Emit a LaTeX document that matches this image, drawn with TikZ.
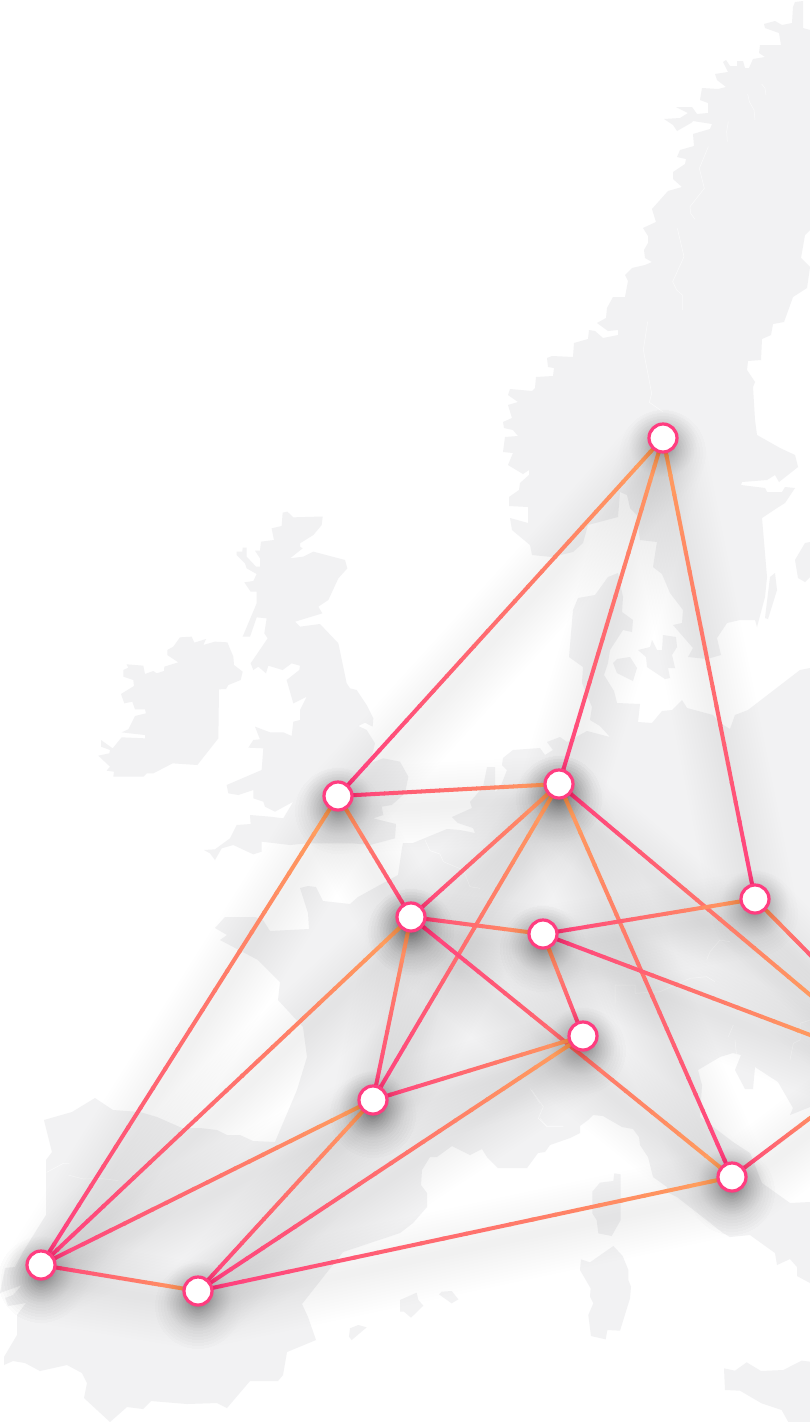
\documentclass[tikz,border=0pt]{standalone}
\usetikzlibrary{calc}
\definecolor{landgrey}{HTML}{F2F2F3}
\definecolor{linkpink}{HTML}{FF3D80}
\definecolor{linkorange}{HTML}{FFA35C}
\pgfdeclarelayer{land}
\pgfdeclarelayer{glow}
\pgfdeclarelayer{wire}
\pgfdeclarelayer{halo}
\pgfsetlayers{land,glow,wire,halo,main}
\tikzset{
  city/.style={circle,fill=white,draw=linkpink,line width=3.2pt,inner sep=0pt,minimum size=28pt},
  landmass/.style={fill=landgrey,draw=none},
  border/.style={draw=white,line width=.5pt,opacity=.7},
  wireline/.style={line width=4pt},
  haze/.style={black,line cap=round,opacity=.004}
}
\begin{document}
\begin{tikzpicture}[x=1pt,y=-1pt]
\useasboundingbox (0,0) rectangle (810,1422);
\node[city] (oslo) at (663,438) {};
\node[city] (london) at (338,796) {};
\node[city] (hamburg) at (559,784) {};
\node[city] (paris) at (411,917) {};
\node[city] (frankfurt) at (543,934) {};
\node[city] (berlin) at (755,899) {};
\node[city] (zurich) at (583,1036) {};
\node[city] (lyon) at (373,1100) {};
\node[city] (rome) at (732,1177) {};
\node[city] (lisbon) at (41,1265) {};
\node[city] (madrid) at (198,1291) {};
\coordinate (vienna) at (834,1015);
\coordinate (munich) at (834,1044);
\coordinate (warsaw) at (834,979);
\coordinate (athens) at (834,1100);
% map
\begin{pgfonlayer}{land}
\fill[white] (0,0) rectangle (810,1422);
\fill[landmass] (795,2) -- (803,1) -- (803,28) -- (810,30) -- (810,230) -- (805,235) -- (801,258) -- (810,267) -- (807,288) -- (793,297) -- (784,322) -- (773,324) -- (771,335) -- (762,339) -- (761,360) -- (748,361) -- (747,370) -- (755,382) -- (753,387) -- (755,420) -- (757,435) -- (780,448) -- (795,455) -- (798,467) -- (779,482) -- (775,475) -- (767,480) -- (742,482) -- (741,485) -- (765,488) -- (767,492) -- (782,492) -- (785,487) -- (795,488) -- (785,503) -- (777,508) -- (762,518) -- (767,577) -- (765,597) -- (757,627) -- (755,620) -- (740,620) -- (727,623) -- (717,638) -- (721,655) -- (707,659) -- (688,657) -- (693,648) -- (673,625) -- (682,623) -- (683,610) -- (670,593) -- (662,574) -- (653,567) -- (657,542) -- (640,540) -- (637,515) -- (630,508) -- (627,495) -- (620,492) -- (618,517) -- (588,525) -- (583,543) -- (573,552) -- (552,557) -- (532,555) -- (530,545) -- (512,530) -- (510,518) -- (528,523) -- (528,507) -- (509,506) -- (509,497) -- (519,490) -- (520,483) -- (529,475) -- (529,470) -- (523,474) -- (508,465) -- (513,453) -- (503,452) -- (505,437) -- (518,436) -- (513,430) -- (504,428) -- (503,422) -- (512,418) -- (508,405) -- (518,402) -- (508,395) -- (510,389) -- (532,391) -- (535,388) -- (536,377) -- (553,376) -- (554,368) -- (548,367) -- (547,358) -- (552,356) -- (573,357) -- (574,343) -- (588,339) -- (589,330) -- (595,331) -- (603,338) -- (618,335) -- (618,330) -- (608,331) -- (597,323) -- (606,318) -- (607,308) -- (613,297) -- (625,297) -- (628,281) -- (625,275) -- (632,268) -- (645,265) -- (652,262) -- (645,258) -- (644,250) -- (648,243) -- (648,236) -- (643,228) -- (656,222) -- (652,209) -- (668,191) -- (682,187) -- (673,179) -- (673,172) -- (685,164) -- (686,159) -- (677,157) -- (680,150) -- (694,146) -- (693,134) -- (710,129) -- (712,124) -- (693,121) -- (691,123) -- (677,131) -- (673,125) -- (664,119) -- (680,118) -- (688,113) -- (676,107) -- (692,107) -- (697,114) -- (708,113) -- (708,103) -- (700,100) -- (702,88) -- (718,89) -- (726,87) -- (717,80) -- (715,74) -- (728,72) -- (723,62) -- (726,60) -- (730,66) -- (737,66) -- (737,61) -- (743,61) -- (745,68) -- (749,68) -- (753,59) -- (765,57) -- (759,53) -- (760,45) -- (781,45) -- (779,33) -- (765,28) -- (764,24) -- (775,21) -- (782,25) -- (792,23) -- (793,7) -- cycle;
\fill[landmass] (618,573) -- (623,597) -- (622,612) -- (633,620) -- (632,632) -- (623,630) -- (610,650) -- (608,663) -- (604,675) -- (614,691) -- (617,703) -- (640,704) -- (638,722) -- (652,723) -- (662,711) -- (672,710) -- (682,700) -- (687,708) -- (713,715) -- (720,723) -- (730,729) -- (735,715) -- (748,710) -- (800,670) -- (810,668) -- (810,1107) -- (790,1115) -- (793,1108) -- (778,1082) -- (755,1067) -- (753,1089) -- (745,1089) -- (735,1070) -- (741,1055) -- (733,1053) -- (720,1057) -- (698,1070) -- (702,1085) -- (700,1117) -- (733,1142) -- (750,1153) -- (762,1183) -- (790,1203) -- (810,1202) -- (810,1283) -- (797,1276) -- (797,1267) -- (790,1259) -- (777,1265) -- (775,1253) -- (750,1235) -- (730,1237) -- (723,1233) -- (677,1197) -- (667,1192) -- (667,1187) -- (653,1177) -- (648,1157) -- (640,1145) -- (639,1137) -- (633,1129) -- (622,1127) -- (603,1116) -- (593,1115) -- (588,1120) -- (580,1126) -- (580,1133) -- (570,1138) -- (550,1145) -- (545,1152) -- (538,1153) -- (527,1168) -- (498,1168) -- (487,1157) -- (482,1149) -- (470,1155) -- (452,1146) -- (437,1157) -- (430,1157) -- (422,1170) -- (421,1185) -- (427,1193) -- (427,1207) -- (413,1223) -- (400,1233) -- (343,1252) -- (302,1304) -- (308,1317) -- (316,1340) -- (287,1352) -- (283,1375) -- (278,1381) -- (250,1381) -- (227,1408) -- (217,1403) -- (187,1404) -- (151,1401) -- (143,1409) -- (127,1407) -- (110,1422) -- (84,1398) -- (87,1383) -- (82,1373) -- (67,1365) -- (40,1371) -- (25,1363) -- (13,1361) -- (4,1365) -- (4,1357) -- (17,1335) -- (17,1315) -- (26,1303) -- (8,1306) -- (5,1298) -- (13,1295) -- (22,1285) -- (0,1293) -- (5,1268) -- (15,1267) -- (23,1252) -- (46,1215) -- (46,1160) -- (52,1152) -- (44,1120) -- (72,1112) -- (95,1098) -- (113,1110) -- (140,1112) -- (157,1117) -- (182,1128) -- (200,1128) -- (217,1130) -- (227,1135) -- (240,1135) -- (253,1141) -- (275,1142) -- (297,1090) -- (307,1057) -- (303,1027) -- (278,1000) -- (280,982) -- (258,960) -- (220,940) -- (227,935) -- (215,928) -- (225,917) -- (255,917) -- (263,920) -- (270,931) -- (309,929) -- (308,913) -- (300,888) -- (308,886) -- (316,887) -- (323,901) -- (350,904) -- (358,897) -- (398,875) -- (402,848) -- (403,843) -- (413,843) -- (447,829) -- (460,830) -- (475,833) -- (473,828) -- (458,823) -- (452,817) -- (472,808) -- (470,802) -- (483,787) -- (487,767) -- (495,767) -- (495,792) -- (500,788) -- (507,770) -- (502,765) -- (503,758) -- (513,750) -- (540,748) -- (545,755) -- (553,750) -- (547,742) -- (560,737) -- (567,742) -- (587,731) -- (610,737) -- (600,726) -- (590,720) -- (592,707) -- (582,683) -- (583,667) -- (569,657) -- (573,610) -- (578,598) -- (595,595) -- (608,577) -- cycle;
\fill[landmass] (810,542) -- (805,543) -- (795,560) -- (798,578) -- (805,582) -- (810,577) -- cycle;
\fill[landmass] (775,573) -- (770,577) -- (765,618) -- (768,619) -- (777,590) -- cycle;
\fill[landmass] (613,663) -- (617,659) -- (630,657) -- (637,668) -- (633,681) -- (617,673) -- cycle;
\fill[landmass] (638,650) -- (650,647) -- (652,640) -- (657,650) -- (662,650) -- (663,635) -- (676,637) -- (677,647) -- (672,655) -- (675,668) -- (668,668) -- (670,678) -- (665,679) -- (647,667) -- (646,657) -- cycle;
\begin{scope}[shift={(90,500)},scale=1/3]
\fill[landmass] (578,38) -- (592,35) -- (610,52) -- (680,50) -- (698,50) -- (695,75) -- (670,105) -- (630,130) -- (630,140) -- (638,145) -- (600,175) -- (640,170) -- (670,155) -- (765,180) -- (772,205) -- (745,235) -- (715,300) -- (685,320) -- (697,340) -- (615,365) -- (630,380) -- (690,372) -- (745,430) -- (770,550) -- (780,565) -- (800,570) -- (830,615) -- (850,655) -- (848,680) -- (825,668) -- (805,678) -- (830,690) -- (855,730) -- (840,790) -- (880,775) -- (930,785) -- (955,830) -- (945,880) -- (905,915) -- (875,920) -- (880,945) -- (850,955) -- (918,972) -- (915,1015) -- (840,1035) -- (790,1030) -- (650,1030) -- (600,1035) -- (515,1025) -- (515,1055) -- (490,1063) -- (430,1035) -- (395,1045) -- (375,1080) -- (360,1060) -- (342,1050) -- (375,1048) -- (420,1015) -- (440,975) -- (482,972) -- (480,945) -- (540,950) -- (580,955) -- (610,905) -- (555,935) -- (525,920) -- (520,905) -- (490,895) -- (490,870) -- (445,885) -- (415,880) -- (410,855) -- (515,810) -- (520,745) -- (475,743) -- (490,720) -- (510,718) -- (495,680) -- (540,697) -- (580,697) -- (605,708) -- (610,665) -- (630,660) -- (630,630) -- (650,590) -- (610,610) -- (590,540) -- (628,510) -- (630,497) -- (605,490) -- (578,510) -- (535,497) -- (528,520) -- (505,500) -- (490,510) -- (482,490) -- (533,415) -- (523,400) -- (530,355) -- (500,352) -- (480,410) -- (458,410) -- (500,310) -- (500,275) -- (482,275) -- (463,247) -- (490,243) -- (500,222) -- (470,205) -- (465,190) -- (440,165) -- (440,155) -- (457,155) -- (458,143) -- (470,143) -- (470,170) -- (498,200) -- (510,200) -- (510,175) -- (495,152) -- (510,152) -- (513,125) -- (552,120) -- (545,85) -- (575,78) -- cycle;
\fill[landmass] (110,493) -- (160,497) -- (165,522) -- (190,513) -- (200,520) -- (222,513) -- (223,500) -- (265,487) -- (232,465) -- (232,450) -- (250,440) -- (270,412) -- (305,410) -- (313,428) -- (348,417) -- (340,435) -- (375,425) -- (412,427) -- (430,470) -- (432,495) -- (458,515) -- (452,540) -- (415,555) -- (408,567) -- (387,568) -- (385,715) -- (322,795) -- (248,790) -- (190,820) -- (170,820) -- (160,830) -- (70,830) -- (72,815) -- (50,812) -- (60,800) -- (25,767) -- (58,760) -- (60,750) -- (33,740) -- (33,720) -- (68,745) -- (95,712) -- (165,715) -- (165,705) -- (120,700) -- (95,697) -- (115,688) -- (135,648) -- (168,640) -- (165,628) -- (135,628) -- (127,605) -- (103,610) -- (93,582) -- (132,558) -- (130,540) -- (100,530) -- (100,510) -- (115,503) -- cycle;
\end{scope}
\begin{scope}[shift={(400,1050)},scale=1/3]
\fill[landmass] (643,370) -- (662,373) -- (662,510) -- (635,558) -- (595,550) -- (590,510) -- (577,490) -- (577,425) -- (600,398) -- (640,393) -- cycle;
\fill[landmass] (640,588) -- (668,618) -- (685,660) -- (685,690) -- (693,710) -- (690,745) -- (660,842) -- (622,840) -- (617,868) -- (573,858) -- (565,795) -- (580,760) -- (570,740) -- (572,715) -- (540,660) -- (543,628) -- (570,637) -- cycle;
\fill[landmass] (972,955) -- (1005,962) -- (1040,937) -- (1083,963) -- (1150,960) -- (1205,932) -- (1230,935) -- (1230,1116) -- (1165,1116) -- (1145,1080) -- (1085,1060) -- (1020,1022) -- (975,1020) -- cycle;
\fill[landmass] (0,750) -- (50,728) -- (55,750) -- (70,767) -- (33,803) -- (12,785) -- (0,785) -- cycle;
\fill[landmass] (117,733) -- (125,725) -- (155,723) -- (175,748) -- (155,760) -- cycle;
\draw[border] (395,120) -- (430,170) -- (415,205) -- (440,230) -- (490,230);
\end{scope}
\begin{scope}[shift={(0,1080)},scale=1/3]
\fill[landmass] (1050,745) -- (1075,735) -- (1100,742) -- (1055,780) -- (1047,770) -- cycle;
\draw[border] (140,277) -- (190,250) -- (208,250);
\draw[border] (205,285) -- (250,297) -- (300,295) -- (355,302);
\end{scope}
\begin{scope}[shift={(480,0)},scale=1/3]
\draw[border] (685,440) -- (658,505) -- (673,565) -- (630,620) -- (632,640) -- (645,658);
\draw[border] (592,685) -- (612,770) -- (578,845) -- (590,870) -- (607,885) -- (607,930);
\draw[border] (503,965) -- (490,1050) -- (515,1180) -- (508,1207) -- (548,1235);
\draw[border] (803,282) -- (808,305) -- (822,330) -- (825,360);
\draw[border] (845,252) -- (855,265) -- (858,285);
\draw[border] (745,365) -- (740,395) -- (742,425);
\end{scope}
\begin{scope}[shift={(180,780)},scale=1/3]
\draw[border] (735,180) -- (750,212) -- (780,222) -- (790,245) -- (850,270) -- (870,320) -- (900,325);
\end{scope}
\begin{scope}[shift={(520,880)},scale=1/3]
\draw[border] (560,240) -- (570,215) -- (600,180) -- (630,185);
\draw[border] (285,370) -- (285,315) -- (345,315) -- (345,340) -- (420,335) -- (510,295) -- (560,290) -- (585,305);
\draw[border] (640,435) -- (625,470);
\draw[border] (645,480) -- (650,530);
\draw[border] (810,540) -- (820,490) -- (840,480) -- (840,430) -- (870,420);
\draw[border] (60,715) -- (80,738) -- (130,738);
\draw[border] (30,625) -- (60,670);
\end{scope}
\end{pgfonlayer}
% links, pink end first
\foreach \src/\dst in {london/oslo,hamburg/oslo,berlin/oslo,london/hamburg,paris/london,lisbon/london,paris/hamburg,lyon/hamburg,rome/hamburg,hamburg/vienna,paris/frankfurt,lyon/paris,lisbon/paris,paris/rome,frankfurt/berlin,zurich/frankfurt,frankfurt/munich,warsaw/berlin,lyon/zurich,madrid/zurich,lisbon/lyon,madrid/lyon,lisbon/madrid,madrid/rome,rome/athens}{
\begin{pgfonlayer}{glow}
\foreach \w in {8,14,...,86}
\draw[haze,line width=\w pt] ([yshift=-15pt]\src.center) -- ([yshift=-15pt]\dst.center);
\end{pgfonlayer}
\begin{pgfonlayer}{wire}
\foreach \t in {0,...,23}{
\pgfmathsetmacro\mixp{100-(\t+.5)*100/24}
\draw[wireline,linkpink!\mixp!linkorange] ($(\src)!{\t/24}!(\dst)$) -- ($(\src)!{(\t+1.1)/24}!(\dst)$);
}
\end{pgfonlayer}
}
% shadows of the cities
\begin{pgfonlayer}{halo}
\foreach \c in {oslo,london,hamburg,paris,frankfurt,berlin,zurich,lyon,rome,lisbon,madrid}
\foreach \k in {1,...,55}{
\pgfmathsetmacro\rad{10+24*(\k/55)^2}
\fill[black,opacity=.004] ([yshift=-5pt]\c.center) circle [radius=\rad];
}
\end{pgfonlayer}
\end{tikzpicture}
\end{document}
